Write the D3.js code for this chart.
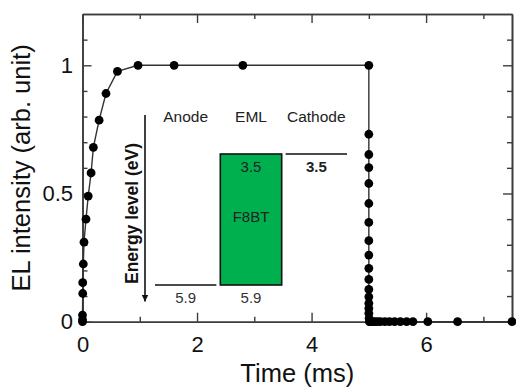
<!DOCTYPE html>
<html>
<head>
<meta charset="utf-8">
<script src="https://cdn.jsdelivr.net/npm/d3@7"></script>
<style>
  html, body { margin: 0; padding: 0; background: #fff; }
  svg { display: block; font-family: "Liberation Sans", Arial, sans-serif; }
</style>
</head>
<body>
<svg id="chart" width="516" height="392"></svg>
<script>
// ---- data ----
const riseTime = [0, 0, 0, 0.004, 0.004, 0.014, 0.026, 0.061, 0.10, 0.15, 0.19, 0.29, 0.41, 0.61, 0.97, 1.6, 2.8];
const riseEL   = [0, 0.008, 0.026, 0.11, 0.152, 0.225, 0.31, 0.40, 0.49, 0.58, 0.68, 0.786, 0.89, 0.976, 1.0, 1.0, 1.0];
const decayTime = [5.0, 5.0, 5.0, 5.0, 5.0, 5.0, 5.0, 5.0, 5.0, 5.0, 5.0, 5.0, 5.0, 5.0, 5.0, 5.0, 5.005, 5.01,
                   5.02, 5.06, 5.1, 5.15, 5.2, 5.28, 5.36, 5.45, 5.55, 5.66, 5.77, 6.03, 6.55, 7.5];
const decayEL   = [1.0, 0.731, 0.652, 0.601, 0.539, 0.461, 0.387, 0.316, 0.26, 0.208, 0.165, 0.126, 0.097, 0.072, 0.052, 0.033, 0.013, 0,
                   0, 0, 0, 0, 0, 0, 0, 0, 0, 0, 0, 0, 0, 0];
const xTickValues = [0, 2, 4, 6];
const xTickLabels = ["0", "2", "4", "6"];
const yTickValues = [0, 0.5, 1];
const yTickLabels = ["0", "0.5", "1"];
const xMinor = [1, 3, 5, 7];
const yMinor = [0.1, 0.2, 0.3, 0.4, 0.6, 0.7, 0.8, 0.9, 1.1];
// inset (energy diagram)
const layerNames = ["Anode", "EML", "Cathode"];
const anodeLevel = 5.9;
const emlLUMO = 3.5, emlHOMO = 5.9;
const cathodeLevel = 3.5;
const emlMaterial = "F8BT";

// ---- layout ----
const svg = d3.select("#chart");
const L = 82.5, R = 512, T = 14, B = 321.7;
const x = d3.scaleLinear().domain([0, 7.5]).range([L, R]);
const y = d3.scaleLinear().domain([0, 1.2]).range([B, T]);
const axisColor = "#3c3c3c";
const fontMain = 22;

function styleAxis(g) {
  g.selectAll("path.domain").attr("stroke", axisColor).attr("stroke-width", 1.6);
  g.selectAll(".tick line").attr("stroke", axisColor).attr("stroke-width", 1.4);
  g.selectAll(".tick text").attr("fill", "#111").attr("font-size", fontMain)
    .attr("font-family", '"Liberation Sans", Arial, sans-serif');
}

// minor ticks
svg.append("g").attr("transform", `translate(0,${B})`)
  .call(d3.axisBottom(x).tickValues(xMinor).tickSize(-5).tickSizeOuter(0).tickFormat(""))
  .call(styleAxis);
svg.append("g").attr("transform", `translate(0,${T})`)
  .call(d3.axisTop(x).tickValues(xMinor).tickSize(-5).tickSizeOuter(0).tickFormat(""))
  .call(styleAxis);
svg.append("g").attr("transform", `translate(${L},0)`)
  .call(d3.axisLeft(y).tickValues(yMinor).tickSize(-5).tickSizeOuter(0).tickFormat(""))
  .call(styleAxis);
svg.append("g").attr("transform", `translate(${R},0)`)
  .call(d3.axisRight(y).tickValues(yMinor).tickSize(-5).tickSizeOuter(0).tickFormat(""))
  .call(styleAxis);

// major ticks
svg.append("g").attr("transform", `translate(0,${B})`)
  .call(d3.axisBottom(x).tickValues(xTickValues).tickSize(-9).tickSizeOuter(0).tickPadding(14.5)
    .tickFormat((d, i) => xTickLabels[i]))
  .call(styleAxis);
svg.append("g").attr("transform", `translate(0,${T})`)
  .call(d3.axisTop(x).tickValues(xTickValues).tickSize(-9).tickSizeOuter(0).tickFormat(""))
  .call(styleAxis);
svg.append("g").attr("transform", `translate(${L},0)`)
  .call(d3.axisLeft(y).tickValues(yTickValues).tickSize(-9).tickSizeOuter(0).tickPadding(9.5)
    .tickFormat((d, i) => yTickLabels[i]))
  .call(styleAxis);
svg.append("g").attr("transform", `translate(${R},0)`)
  .call(d3.axisRight(y).tickValues(yTickValues).tickSize(-9).tickSizeOuter(0).tickFormat(""))
  .call(styleAxis);

// axis titles
svg.append("text").attr("x", (L + R) / 2).attr("y", 381.5).attr("text-anchor", "middle")
  .attr("font-size", 25.5).attr("fill", "#111").text("Time (ms)");
svg.append("text").attr("transform", `translate(30,${(T + B) / 2}) rotate(-90)`)
  .attr("text-anchor", "middle").attr("font-size", 25.5).attr("fill", "#111")
  .text("EL intensity (arb. unit)");

// ---- inset energy diagram ----
const inset = svg.append("g");
const band = d3.scaleBand().domain(layerNames).range([155, 347]).paddingInner(0.06);
const eScale = d3.scaleLinear().domain([cathodeLevel, anodeLevel]).range([154, 285]);
const lineColor = "#111";

// arrow
svg.append("defs").append("marker").attr("id", "arrow")
  .attr("viewBox", "0 0 10 10").attr("refX", 10).attr("refY", 5)
  .attr("markerWidth", 7).attr("markerHeight", 9).attr("markerUnits", "userSpaceOnUse")
  .attr("orient", "auto")
  .append("path").attr("d", "M0,0 L10,5 L0,10 Z").attr("fill", lineColor);
inset.append("line").attr("x1", 145).attr("x2", 145).attr("y1", 115).attr("y2", 301.5)
  .attr("stroke", lineColor).attr("stroke-width", 1.6).attr("marker-end", "url(#arrow)");
inset.append("text").attr("transform", "translate(138,213.5) rotate(-90)")
  .attr("text-anchor", "middle").attr("font-size", 17.5).attr("font-weight", "bold")
  .attr("fill", "#111").text("Energy level (eV)");

// layer names
inset.selectAll("text.layer").data(layerNames).join("text").attr("class", "layer")
  .attr("x", d => band(d) + band.bandwidth() / 2).attr("y", 121.5)
  .attr("text-anchor", "middle").attr("font-size", 15.5).attr("fill", "#222").text(d => d);

// anode line
inset.append("line").attr("x1", band("Anode")).attr("x2", band("Anode") + band.bandwidth())
  .attr("y1", eScale(anodeLevel)).attr("y2", eScale(anodeLevel))
  .attr("stroke", lineColor).attr("stroke-width", 1.6);
inset.append("text").attr("x", band("Anode") + band.bandwidth() / 2).attr("y", eScale(anodeLevel) + 18)
  .attr("text-anchor", "middle").attr("font-size", 15).attr("fill", "#333").text(anodeLevel.toFixed(1));

// EML box
inset.append("rect").attr("x", band("EML")).attr("width", band.bandwidth())
  .attr("y", eScale(emlLUMO)).attr("height", eScale(emlHOMO) - eScale(emlLUMO))
  .attr("fill", "#00b04f").attr("stroke", lineColor).attr("stroke-width", 1.6);
inset.append("text").attr("x", band("EML") + band.bandwidth() / 2).attr("y", eScale(emlLUMO) + 18)
  .attr("text-anchor", "middle").attr("font-size", 15).attr("fill", "#222").text(emlLUMO.toFixed(1));
inset.append("text").attr("x", band("EML") + band.bandwidth() / 2).attr("y", 222)
  .attr("text-anchor", "middle").attr("font-size", 15).attr("fill", "#222").text(emlMaterial);
inset.append("text").attr("x", band("EML") + band.bandwidth() / 2).attr("y", eScale(emlHOMO) + 18)
  .attr("text-anchor", "middle").attr("font-size", 15).attr("fill", "#333").text(emlHOMO.toFixed(1));

// cathode line
inset.append("line").attr("x1", band("Cathode")).attr("x2", band("Cathode") + band.bandwidth())
  .attr("y1", eScale(cathodeLevel)).attr("y2", eScale(cathodeLevel))
  .attr("stroke", lineColor).attr("stroke-width", 1.6);
inset.append("text").attr("x", band("Cathode") + band.bandwidth() / 2).attr("y", eScale(cathodeLevel) + 18)
  .attr("text-anchor", "middle").attr("font-size", 15).attr("font-weight", "bold")
  .attr("fill", "#222").text(cathodeLevel.toFixed(1));

// ---- data series ----
const pts = riseTime.map((t, i) => ({ t, v: riseEL[i] }))
  .concat(decayTime.map((t, i) => ({ t, v: decayEL[i] })));
const line = d3.line().x(d => x(d.t)).y(d => y(d.v));
svg.append("path").datum(pts).attr("d", line).attr("fill", "none")
  .attr("stroke", "#333").attr("stroke-width", 1.4);
svg.append("g").selectAll("circle").data(pts).join("circle")
  .attr("cx", d => x(d.t)).attr("cy", d => y(d.v)).attr("r", 4.4).attr("fill", "#000");
</script>
</body>
</html>
